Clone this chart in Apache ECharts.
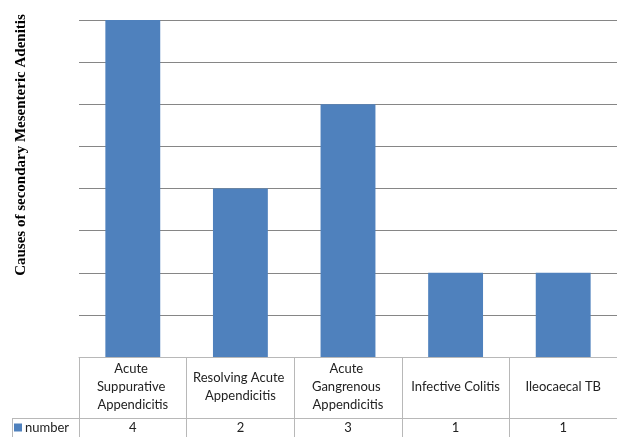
<!DOCTYPE html>
<html><head><meta charset="utf-8">
<script src="https://cdn.jsdelivr.net/npm/echarts@6/dist/echarts.min.js"></script>
<style>html,body{margin:0;padding:0;background:#fff}#c{width:617px;height:437px}</style>
</head><body><div id="c"></div>
<script>
var categories = ['Acute Suppurative Appendicitis', 'Resolving Acute Appendicitis', 'Acute Gangrenous Appendicitis', 'Infective Colitis', 'Ileocaecal TB'];
var values = [4, 2, 3, 1, 1];
var seriesName = 'number';
var yTitle = 'Causes of secondary Mesenteric Adenitis';

var chart = echarts.init(document.getElementById('c'), null, {renderer: 'canvas'});
var tableColor = '#b8b8b8';
var fontFam = 'Lato, "Open Sans", sans-serif';
chart.setOption({
  animation: false,
  grid: {left: 79, top: 20, width: 540, height: 337, containLabel: false},
  legend: {
    data: [seriesName], left: 14, top: 421, itemWidth: 8, itemHeight: 8, icon: 'rect', itemGap: 4, padding: 0,
    textStyle: {fontFamily: fontFam, fontSize: 13, color: '#222', padding: [0, 0, 0, -2]}
  },
  xAxis: [{
    type: 'category', data: categories, position: 'bottom',
    axisLine: {show: true, lineStyle: {color: tableColor, width: 1}},
    axisTick: {show: true, alignWithLabel: false, interval: 0, length: 80, lineStyle: {color: tableColor}},
    axisLabel: {interval: 0, margin: 30, verticalAlign: 'middle', lineHeight: 18, width: 100, overflow: 'break',
      fontFamily: fontFam, fontSize: 13, color: '#222', align: 'center'}
  }, {
    type: 'category', data: values.map(String), position: 'bottom', offset: 61,
    axisLine: {show: true, lineStyle: {color: tableColor, width: 1}},
    axisTick: {show: false},
    axisLabel: {interval: 0, margin: 10, verticalAlign: 'middle', fontFamily: fontFam, fontSize: 13, color: '#222'}
  }],
  yAxis: {
    type: 'value', min: 0, max: 4, interval: 0.5,
    axisLine: {show: false}, axisTick: {show: false}, axisLabel: {show: false},
    splitLine: {lineStyle: {color: '#868686', width: 1}}
  },
  series: [{
    name: seriesName, type: 'bar', data: values, xAxisIndex: 0, barWidth: '51%',
    itemStyle: {color: '#4F81BD'}
  }],
  graphic: [
    {type: 'line', shape: {x1: 12, y1: 418.5, x2: 79, y2: 418.5}, style: {stroke: tableColor, lineWidth: 1}},
    {type: 'line', shape: {x1: 12.5, y1: 418, x2: 12.5, y2: 437}, style: {stroke: tableColor, lineWidth: 1}},
    {type: 'text', x: 21, y: 145, rotation: Math.PI / 2,
      style: {text: yTitle, fontFamily: '"Liberation Serif", "Times New Roman", serif', fontWeight: 'bold', fontSize: 15,
        fill: '#000', textAlign: 'center', textVerticalAlign: 'middle'}}
  ]
});
</script></body></html>
